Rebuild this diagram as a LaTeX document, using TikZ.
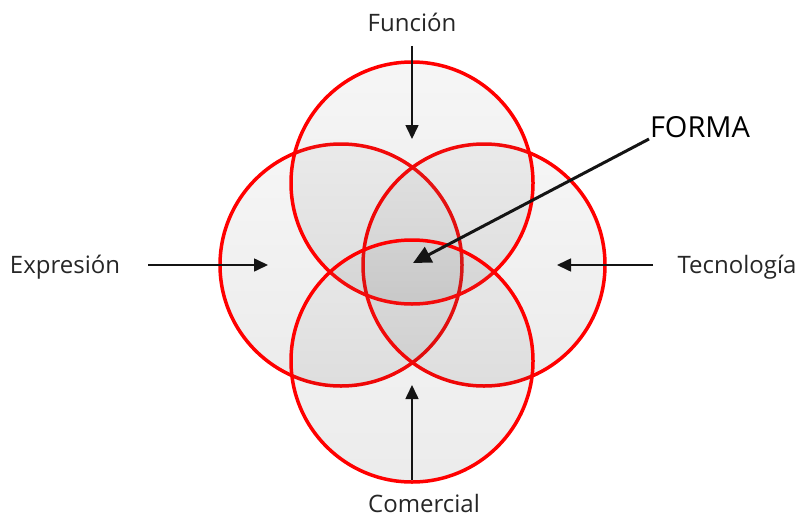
\documentclass[tikz,border=0pt]{standalone}
\usepackage{fontspec}
\setmainfont{Open Sans}
\usetikzlibrary{arrows.meta}
\definecolor{ringred}{RGB}{255,0,0}
\definecolor{arrowgray}{RGB}{20,20,20}
\tikzset{
  petal/.style={circle, minimum size=242pt, inner sep=0pt, line width=3.5pt, draw=ringred,
    top color=black!40, bottom color=black!85, fill opacity=0.09},
  pointer/.style={draw=arrowgray, line width=1.6pt, -{Triangle[length=14pt,width=13pt]}},
  label/.style={font=\fontsize{24}{28}\selectfont, text=black!85}
}
\newcommand{\petal}[3]{% name, x, y
  \node[petal] (#1) at (#2,#3) {};
}

\begin{document}
\begin{tikzpicture}[x=1pt, y=-1pt]
    \useasboundingbox (0,0) rectangle (799,519);
    % Circles
    \petal{left}{341}{265}
    \petal{right}{484}{265}
    \petal{top}{412}{183}
    \petal{bottom}{412}{361}
    % Labels
    \node[label] (funcion) at (412,22) {Función};
    \node[label] (expresion) at (65,267) {Expresión};
    \node[label] (tecnologia) at (737,267) {Tecnología};
    \node[label] (comercial) at (424,503) {Comercial};
    \node[label, font=\fontsize{29}{32}\selectfont, text=black] (forma) at (700,127) {FORMA};
    % Arrow ends
    \coordinate (funA) at (412,46);
    \coordinate (funB) at (412,139);
    \coordinate (expA) at (148,265);
    \coordinate (expB) at (268,265);
    \coordinate (tecA) at (653,265);
    \coordinate (tecB) at (557,265);
    \coordinate (comA) at (412,480);
    \coordinate (comB) at (412,385);
    \coordinate (forA) at (649,139);
    \coordinate (forB) at (413,263);
    % Arrows
    \draw[pointer] (funA) -- (funB);
    \draw[pointer] (expA) -- (expB);
    \draw[pointer] (tecA) -- (tecB);
    \draw[pointer] (comA) -- (comB);
    \draw[pointer, line width=3pt, -{Triangle[length=18pt,width=17pt]}] (forA) -- (forB);
\end{tikzpicture}
\end{document}
